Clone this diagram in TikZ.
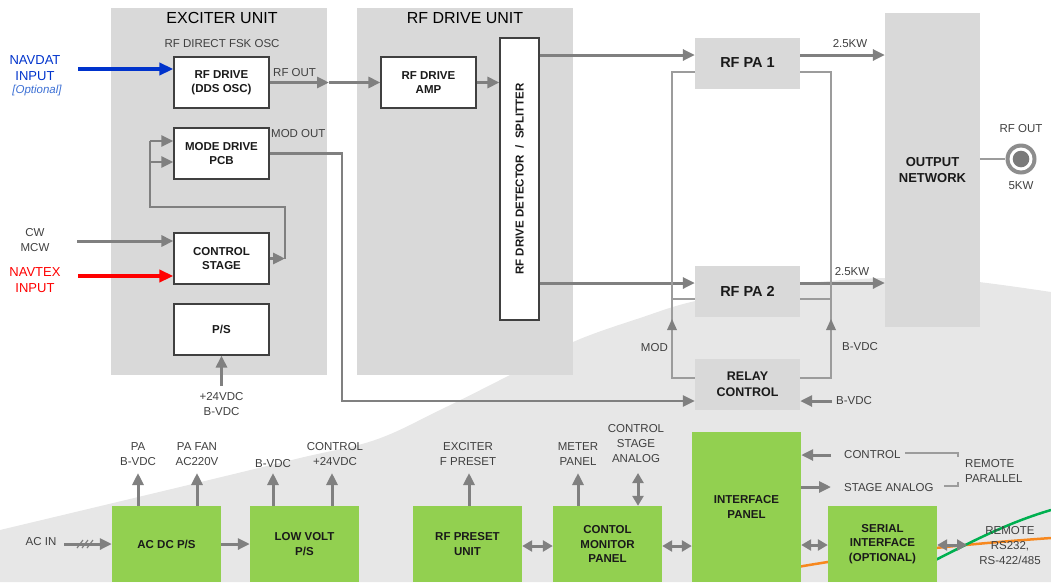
\documentclass[tikz,border=0pt]{standalone}
\usepackage{fontspec}
\usepackage{graphicx}
\setmainfont{Liberation Sans}
\usetikzlibrary{arrows.meta}
\definecolor{pgrey}{HTML}{D9D9D9}
\definecolor{bgrey}{HTML}{E7E7E7}
\definecolor{agrey}{HTML}{808080}
\definecolor{tgrey}{HTML}{9C9C9C}
\definecolor{lgreen}{HTML}{92D050}
\definecolor{navblue}{HTML}{0033CC}
\definecolor{optblue}{HTML}{3B6FD4}
\definecolor{txt}{HTML}{404040}
\definecolor{boxtxt}{HTML}{1A1A1A}
\definecolor{lgr}{HTML}{00B050}
\definecolor{lor}{HTML}{F7881F}
\newcommand\boxfnt{\fontsize{11.5}{14.5}\selectfont\bfseries}
\newcommand\bigboxfnt{\fontsize{14.5}{17}\selectfont\bfseries}
\newcommand\labfnt{\fontsize{11.5}{15}\selectfont}
\newcommand\titfnt{\fontsize{16}{18}\selectfont}
\begin{document}
\begin{tikzpicture}[x=1pt,y=-1pt,
 panel/.style={fill=pgrey,draw=none,inner sep=0},
 wbox/.style={draw=black!75,line width=1.2pt,fill=white,inner sep=0,minimum width=95,minimum height=51,align=center,font=\boxfnt,text=boxtxt},
 pabox/.style={fill=pgrey,inner sep=0,minimum width=105,minimum height=51,align=center,text=boxtxt},
 gbox/.style={fill=lgreen,inner sep=0,minimum width=109,minimum height=76,align=center,font=\boxfnt,text=boxtxt},
 arr/.style={draw=agrey,line width=3pt,-{Triangle[length=12pt,width=11pt]}},
 garr/.style={draw=agrey,line width=2.5pt},
 dbl/.style={draw=agrey,line width=3pt,{Triangle[length=10pt,width=11pt]}-{Triangle[length=10pt,width=11pt]}},
 thinl/.style={draw=tgrey,line width=1.5pt},
 lbl/.style={font=\labfnt,text=txt,align=center,inner sep=0},
]
\useasboundingbox (0,0) rectangle (1051,582);
% background swoosh
\fill[bgrey] plot[smooth,tension=0.6] coordinates {(0,530) (180,487) (300,458) (375,440) (440,410) (510,375) (573,342) (640,318) (700,300) (800,284) (885,278) (960,280) (1051,292)} -- (1051,582) -- (0,582) -- cycle;

% panels
\node[panel,minimum width=216,minimum height=367] (exc) at (219,191.5) {};
\node[panel,minimum width=216,minimum height=367] (rfu) at (465,191.5) {};
\node[panel,minimum width=95,minimum height=314,font=\fontsize{13}{16}\selectfont\bfseries,align=center,text=boxtxt] (outnet) at (932.5,170) {OUTPUT\\NETWORK};
\node[font=\titfnt,inner sep=0,text=black] (exct) at (222,18) {EXCITER UNIT};
\node[font=\titfnt,inner sep=0,text=black] (rfut) at (465,18) {RF DRIVE UNIT};

% green / orange lines
\draw[lor,line width=2.5pt] (760,574) .. controls (850,556) and (950,545) .. (1051,538);
\draw[lgr,line width=2.5pt] (900,578) .. controls (960,548) and (1000,525) .. (1051,510);

% exciter boxes
\node[wbox] (rfdrive) at (221.5,82.5) {RF DRIVE\\(DDS OSC)};
\node[wbox] (mode) at (221.5,153.5) {MODE DRIVE\\PCB};
\node[wbox] (ctrl) at (221.5,258.5) {CONTROL\\STAGE};
\node[wbox] (ps) at (221.5,329.5) {P/S};
\node[wbox] (rfamp) at (428.5,82.5) {RF DRIVE\\AMP};
\node[wbox,minimum width=39,minimum height=282] (splitter) at (519.5,179) {\rotatebox{90}{RF DRIVE DETECTOR \ / \ SPLITTER}};

% PA boxes
\node[pabox,font=\bigboxfnt] (pa1) at (747.5,63) {RF PA 1};
\node[pabox,font=\bigboxfnt] (pa2) at (747.5,291.5) {RF PA 2};
\node[pabox,font=\fontsize{12.5}{15.5}\selectfont\bfseries] (relay) at (747.5,384.5) {RELAY\\CONTROL};

% labels top
\node[lbl] (fsk) at (222,44) {RF DIRECT FSK OSC};
\node[lbl,anchor=west] (rfoutl) at (273,73) {RF OUT};
\node[lbl,anchor=west] (modoutl) at (271,134) {MOD OUT};
\node[font=\fontsize{13}{16}\selectfont,text=navblue,align=center,inner sep=0] (navdat) at (35,68) {NAVDAT\\INPUT};
\node[font=\fontsize{11.5}{14}\selectfont\itshape,text=optblue,inner sep=0] (opt) at (37,91) {[Optional]};
\node[lbl] (cw) at (35,240) {CW\\MCW};
\node[font=\fontsize{13}{16}\selectfont,text=red,align=center,inner sep=0] (navtex) at (35,280) {NAVTEX\\INPUT};
\node[lbl] (psin) at (221.5,404) {+24VDC\\B-VDC};
\node[lbl] (kw1) at (850,44) {2.5KW};
\node[lbl] (kw2) at (852,272) {2.5KW};
\node[lbl,anchor=east] (modl) at (668,348) {MOD};
\node[lbl] (bvdc1) at (860,347) {B-VDC};
\node[lbl,anchor=west] (bvdc2) at (836,401) {B-VDC};
\node[lbl] (rfoutr) at (1021,129) {RF OUT};
\node[lbl] (kw5) at (1021,186) {5KW};

% RF out connector
\node[circle,fill=agrey!90,minimum size=31,inner sep=0] (rfo) at (1021,159) {};
\fill[white] (rfo.center) circle (11.5);
\fill[agrey!95!black] (rfo.center) circle (8.3);
\draw[thinl] (outnet.east |- rfo.center) -- (rfo.west);

% exciter connectors
\draw[draw=navblue,line width=3.5pt,-{Triangle[length=14pt,width=12pt]}] (78,69) -- (rfdrive.west |- 0,69);
\draw[arr] (77,241) -- (ctrl.west |- 0,241);
\draw[draw=red,line width=4pt,-{Triangle[length=14pt,width=12pt]}] (78,276) -- (ctrl.west |- 0,276);
\coordinate (rfmid) at (329,82.5);
\draw[arr] (rfdrive.east) -- (rfmid);
\draw[arr] (rfmid) -- (rfamp.west);
\draw[arr] (rfamp.east) -- (rfamp.east -| splitter.west);
\draw[arr] (ctrl.east) -- (285,258.5);
\draw[garr] (285,258.5) -- (285,207) -- (150,207) -- (150,141);
\draw[garr,-{Triangle[length=12pt,width=11pt]}] (150,141) -- (mode.west |- 0,141);
\draw[garr,-{Triangle[length=12pt,width=11pt]}] (150,162) -- (mode.west |- 0,162);
\draw[garr,-{Triangle[length=12pt,width=11pt]}] (mode.east) -- (342,153.5) -- (342,401) -- (relay.west |- 0,401);
\draw[arr] (ps.south |- 0,386) -- (ps.south);

% splitter -> PAs -> output
\draw[arr] (splitter.east |- 0,55) -- (pa1.west |- 0,55);
\draw[arr] (splitter.east |- 0,283) -- (pa2.west |- 0,283);
\draw[arr] (pa1.east |- 0,55) -- (outnet.west |- 0,55);
\draw[arr] (pa2.east |- 0,283) -- (outnet.west |- 0,283);

% thin loops
\draw[thinl] (pa1.west |- 0,72) -- (672,72) -- (672,378) -- (relay.west |- 0,378);
\draw[thinl] (pa1.east |- 0,72) -- (831,72) -- (831,378) -- (relay.east |- 0,378);
\draw[thinl] (pa2.west |- 0,299) -- (672,299);
\draw[thinl] (pa2.east |- 0,299) -- (831,299);
\fill[agrey] (672,319) -- (667,330) -- (677,330) -- cycle;
\fill[agrey] (831,319) -- (826,330) -- (836,330) -- cycle;
\draw[arr] ([xshift=-4]bvdc2.west) -- (relay.east |- bvdc2.west);

% bottom boxes
\node[gbox] (acdc) at (166.5,544) {AC DC P/S};
\node[gbox] (lowvolt) at (304.5,544) {LOW VOLT\\P/S};
\node[gbox] (rfpreset) at (467.5,544) {RF PRESET\\UNIT};
\node[gbox] (contol) at (607.5,544) {CONTOL\\MONITOR\\PANEL};
\node[gbox,minimum height=150] (iface) at (746.5,507) {INTERFACE\\PANEL};
\node[gbox] (serial) at (882.5,544) {SERIAL\\INTERFACE\\(OPTIONAL)};

% bottom labels
\node[lbl] (pab) at (138,454) {PA\\B-VDC};
\node[lbl] (pafan) at (197,454) {PA FAN\\AC220V};
\node[lbl] (lvb) at (273,464) {B-VDC};
\node[lbl] (lvc) at (335,454) {CONTROL\\+24VDC};
\node[lbl] (excf) at (468,454) {EXCITER\\F PRESET};
\node[lbl] (meter) at (578,454) {METER\\PANEL};
\node[lbl] (csa) at (636,444) {CONTROL\\STAGE\\ANALOG};
\node[lbl,anchor=west] (ctl) at (844,455) {CONTROL};
\node[lbl,anchor=west] (sta) at (844,488) {STAGE ANALOG};
\node[lbl,anchor=west,align=left] (rpar) at (965,471) {REMOTE\\PARALLEL};
\node[lbl] (rser) at (1010,546) {REMOTE\\RS232,\\RS-422/485};
\node[lbl] (acin) at (41,542) {AC IN};

% bottom connectors
\draw[arr] (64,544) -- (acdc.west |- 0,544);
\foreach \hx in {80,85,90} \draw[agrey,line width=1.2pt] (\hx-3,548) -- (\hx+3,540);
\draw[arr] (acdc.east) -- (lowvolt.west);
\draw[arr] (acdc.north -| 138,0) -- (138,473);
\draw[arr] (acdc.north -| 197,0) -- (197,473);
\draw[arr] (lowvolt.north -| 273,0) -- (273,473);
\draw[arr] (lowvolt.north -| 332,0) -- (332,473);
\draw[arr] (rfpreset.north -| 469,0) -- (469,473);
\draw[arr] (contol.north -| 578,0) -- (578,473);
\draw[dbl] (638,473) -- (contol.north -| 638,0);
\draw[dbl] (rfpreset.east |- 0,546) -- (contol.west |- 0,546);
\draw[dbl] (contol.east |- 0,546) -- (iface.west |- 0,546);
\draw[dbl] (iface.east |- 0,545) -- (serial.west |- 0,545);
\draw[dbl] (serial.east |- 0,545) -- (967,545);
\draw[arr] (831,455) -- (iface.east |- 0,455);
\draw[arr] (iface.east |- 0,487) -- (831,487);
\draw[tgrey,line width=1.2pt] (905,453) -- (958,453) -- (958,457);
\draw[tgrey,line width=1.2pt] (944,486) -- (958,486) -- (958,482);
\end{tikzpicture}
\end{document}
